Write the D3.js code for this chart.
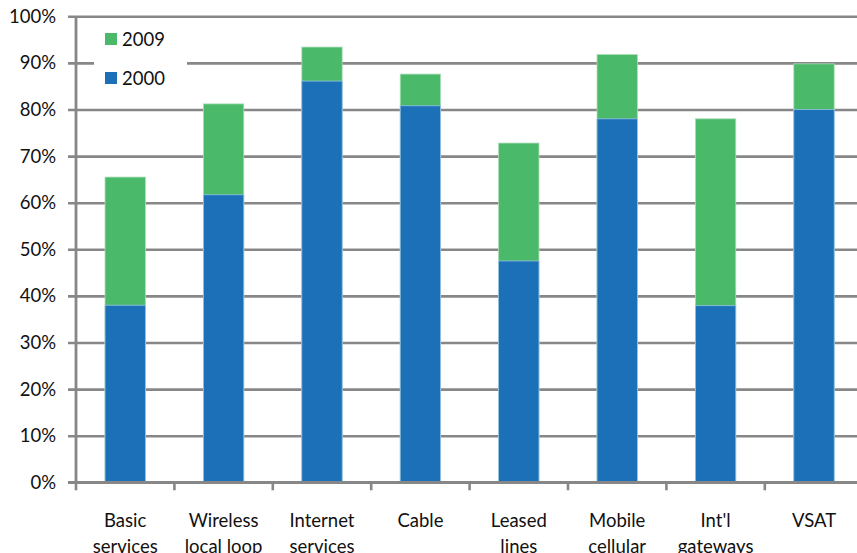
<!DOCTYPE html>
<html>
<head>
<meta charset="utf-8">
<script src="https://cdn.jsdelivr.net/npm/d3@7"></script>
<style>
  html, body { margin: 0; padding: 0; background: #fff; }
  svg { display: block; font-family: Lato, "Open Sans", sans-serif; }
</style>
</head>
<body>
<svg id="chart" width="857" height="553"></svg>
<script>
// Service categories (two-line labels)
const categories = ["Basic services", "Wireless local loop", "Internet services", "Cable",
                    "Leased lines", "Mobile cellular", "Int'l gateways", "VSAT"];
const labelLines = [["Basic", "services"], ["Wireless", "local loop"], ["Internet", "services"], ["Cable"],
                    ["Leased", "lines"], ["Mobile", "cellular"], ["Int'l", "gateways"], ["VSAT"]];
// Share of countries, by year
const values2000 = [0.38, 0.617, 0.861, 0.808, 0.475, 0.78, 0.379, 0.80];
const values2009 = [0.655, 0.812, 0.934, 0.876, 0.728, 0.918, 0.78, 0.898];
const yTicks = [0, 0.1, 0.2, 0.3, 0.4, 0.5, 0.6, 0.7, 0.8, 0.9, 1.0];

const colors = { y2009: "#4ab96a", y2000: "#1b70b8", grid: "#878787" };

const svg = d3.select("#chart");
const plotLeft = 76, step = 98.4, plotTop = 16.3, plotBottom = 482.3;
const fontSize = 18.5;

const x = d3.scaleBand()
  .domain(categories)
  .range([plotLeft, plotLeft + step * categories.length])
  .paddingInner(0.59)
  .paddingOuter(0.295);

const y = d3.scaleLinear().domain([0, 1]).range([plotBottom, plotTop]);

// Horizontal gridlines with tick labels
const yAxis = d3.axisLeft(y)
  .tickValues(yTicks)
  .tickFormat(d3.format(".0%"))
  .tickSize(-(857 - plotLeft))
  .tickPadding(20);

const gy = svg.append("g").attr("transform", `translate(${plotLeft},0)`).call(yAxis);
gy.select(".domain").remove();
gy.selectAll(".tick line")
  .attr("x1", -8)
  .attr("stroke", colors.grid)
  .attr("stroke-width", 2.6);
gy.selectAll(".tick text")
  .attr("font-size", fontSize)
  .attr("fill", "#111")
  .attr("font-family", "Lato, 'Open Sans', sans-serif");

// Legend box sits over the gridlines
const legend = svg.append("g");
legend.append("rect")
  .attr("x", 94).attr("y", 22).attr("width", 93).attr("height", 76)
  .attr("fill", "#fff");
const legendItems = [{ label: "2009", color: colors.y2009, cy: 39 }, { label: "2000", color: colors.y2000, cy: 78 }];
legendItems.forEach(it => {
  legend.append("rect").attr("x", 105).attr("y", it.cy - 6).attr("width", 12).attr("height", 12).attr("fill", it.color);
  legend.append("text").attr("x", 122).attr("y", it.cy).attr("dy", "0.36em")
    .attr("font-size", fontSize).attr("fill", "#111").text(it.label);
});

// Bars: 2009 level drawn first, 2000 level drawn over it
const bars = svg.append("g");
bars.selectAll("rect.y2009")
  .data(categories)
  .join("rect")
  .attr("class", "y2009")
  .attr("x", d => x(d))
  .attr("width", x.bandwidth())
  .attr("y", (d, i) => y(values2009[i]))
  .attr("height", (d, i) => y(0) - y(values2009[i]))
  .attr("fill", colors.y2009)
  .attr("stroke", "#a9dcb6").attr("stroke-width", 0.8);

bars.selectAll("rect.y2000")
  .data(categories)
  .join("rect")
  .attr("class", "y2000")
  .attr("x", d => x(d))
  .attr("width", x.bandwidth())
  .attr("y", (d, i) => y(values2000[i]))
  .attr("height", (d, i) => y(0) - y(values2000[i]))
  .attr("fill", colors.y2000)
  .attr("stroke", "#9cc3e6").attr("stroke-width", 0.8);

// Vertical axis line
svg.append("line")
  .attr("x1", plotLeft).attr("x2", plotLeft)
  .attr("y1", plotTop).attr("y2", plotBottom + 1)
  .attr("stroke", colors.grid).attr("stroke-width", 2.8);

// Category axis with ticks between groups
const xPos = d3.scaleLinear().domain([0, categories.length]).range([plotLeft, plotLeft + step * categories.length]);
const gx = svg.append("g");
gx.append("line")
  .attr("x1", plotLeft - 8).attr("x2", 857)
  .attr("y1", plotBottom).attr("y2", plotBottom)
  .attr("stroke", colors.grid).attr("stroke-width", 2.8);
gx.selectAll("line.tick")
  .data(d3.range(categories.length + 1))
  .join("line")
  .attr("class", "tick")
  .attr("x1", d => xPos(d)).attr("x2", d => xPos(d))
  .attr("y1", plotBottom).attr("y2", plotBottom + 8)
  .attr("stroke", colors.grid).attr("stroke-width", 2.6);

const labels = gx.selectAll("text.cat")
  .data(categories)
  .join("text")
  .attr("class", "cat")
  .attr("x", d => x(d) + x.bandwidth() / 2)
  .attr("y", 527)
  .attr("text-anchor", "middle")
  .attr("font-size", fontSize)
  .attr("fill", "#111");
labels.each(function(d, i) {
  const t = d3.select(this);
  labelLines[i].forEach((line, j) => {
    t.append("tspan")
      .attr("x", x(d) + x.bandwidth() / 2)
      .attr("dy", j === 0 ? 0 : 26)
      .text(line);
  });
});
</script>
</body>
</html>
